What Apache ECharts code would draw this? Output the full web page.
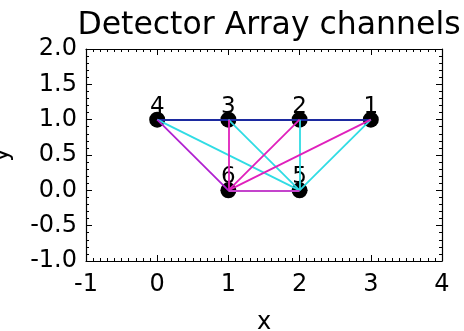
<!DOCTYPE html>
<html>
<head>
<meta charset="utf-8">
<script src="https://cdn.jsdelivr.net/npm/echarts@6/dist/echarts.min.js"></script>
<style>
  html, body { margin: 0; padding: 0; background: #fff; }
  #chart { width: 464px; height: 331px; }
</style>
</head>
<body>
<div id="chart"></div>
<script>
// detector channel positions
const nodeLabels = ['1', '2', '3', '4', '5', '6']
const nodeX = [3, 2, 1, 0, 2, 1]
const nodeY = [1, 1, 1, 1, 0, 0]

// channel pairs (by label), grouped by line colour
const navyPairs = [['4', '3'], ['3', '2'], ['2', '1']]
const cyanPairs = [['4', '5'], ['3', '5'], ['2', '5'], ['1', '5']]
const magentaPairs = [['3', '6'], ['2', '6'], ['1', '6']]
const purplePairs = [['4', '6']]
const violetPairs = [['6', '5']]

const xTicks = [-1, 0, 1, 2, 3, 4]
const yTicks = [-1.0, -0.5, 0.0, 0.5, 1.0, 1.5, 2.0]

const font = 'DejaVu Sans, Liberation Sans, Arial, sans-serif'

function pt (label) {
  const i = nodeLabels.indexOf(label)
  return [nodeX[i], nodeY[i]]
}

function edgeSeries (pairs, color) {
  return {
    type: 'lines',
    coordinateSystem: 'cartesian2d',
    z: 3,
    silent: true,
    lineStyle: { color: color, width: 1.8, opacity: 1 },
    data: pairs.map(p => ({ coords: [pt(p[0]), pt(p[1])] }))
  }
}

const baseX = {
  type: 'value',
  min: xTicks[0],
  max: xTicks[xTicks.length - 1],
  interval: 1,
  splitLine: { show: false },
  axisLine: { show: true, onZero: false, lineStyle: { color: '#000', width: 1.2 } },
  axisTick: { show: true, inside: true, length: 6, lineStyle: { color: '#000' } },
  minorTick: { show: true, splitNumber: 10, length: 3, lineStyle: { color: '#000' } }
}
const baseY = {
  type: 'value',
  min: yTicks[0],
  max: yTicks[yTicks.length - 1],
  interval: 0.5,
  splitLine: { show: false },
  axisLine: { show: true, onZero: false, lineStyle: { color: '#000', width: 1.2 } },
  axisTick: { show: true, inside: true, length: 6, lineStyle: { color: '#000' } },
  minorTick: { show: true, splitNumber: 5, length: 3, lineStyle: { color: '#000' } }
}

const chart = echarts.init(document.getElementById('chart'))
chart.setOption({
  animation: false,
  title: {
    text: 'Detector Array channels',
    left: 264,
    textAlign: 'center',
    top: 5,
    textStyle: { fontFamily: font, fontSize: 31.5, fontWeight: 'normal', color: '#000' }
  },
  grid: { left: 86, right: 22, top: 49, bottom: 70, outerBoundsMode: 'none' },
  xAxis: [
    Object.assign({}, baseX, {
      position: 'bottom',
      name: 'x',
      nameLocation: 'middle',
      nameGap: 50,
      nameTextStyle: { fontFamily: font, fontSize: 24, color: '#000' },
      axisLabel: { fontFamily: font, fontSize: 24, color: '#000', margin: 12 }
    }),
    Object.assign({}, baseX, { position: 'top', axisLabel: { show: false } })
  ],
  yAxis: [
    Object.assign({}, baseY, {
      position: 'left',
      name: 'y',
      nameLocation: 'middle',
      nameGap: 72,
      nameTextStyle: { fontFamily: font, fontSize: 24, color: '#000' },
      axisLabel: {
        fontFamily: font, fontSize: 24, color: '#000', margin: 9,
        formatter: v => v.toFixed(1)
      }
    }),
    Object.assign({}, baseY, { position: 'right', axisLabel: { show: false } })
  ],
  series: [
    {
      type: 'scatter',
      z: 2,
      symbol: 'circle',
      symbolSize: 16,
      itemStyle: { color: '#000', opacity: 1 },
      label: {
        show: true,
        position: 'inside',
        offset: [0, -13],
        formatter: p => p.name,
        fontFamily: font,
        fontSize: 23,
        color: '#000'
      },
      data: nodeLabels.map((l, i) => ({ name: l, value: [nodeX[i], nodeY[i]] }))
    },
    edgeSeries(navyPairs, '#1c2aa0'),
    edgeSeries(cyanPairs, '#30dce4'),
    edgeSeries(magentaPairs, '#e020bc'),
    edgeSeries(purplePairs, '#b020d0'),
    edgeSeries(violetPairs, '#c444cc')
  ]
})
</script>
</body>
</html>
